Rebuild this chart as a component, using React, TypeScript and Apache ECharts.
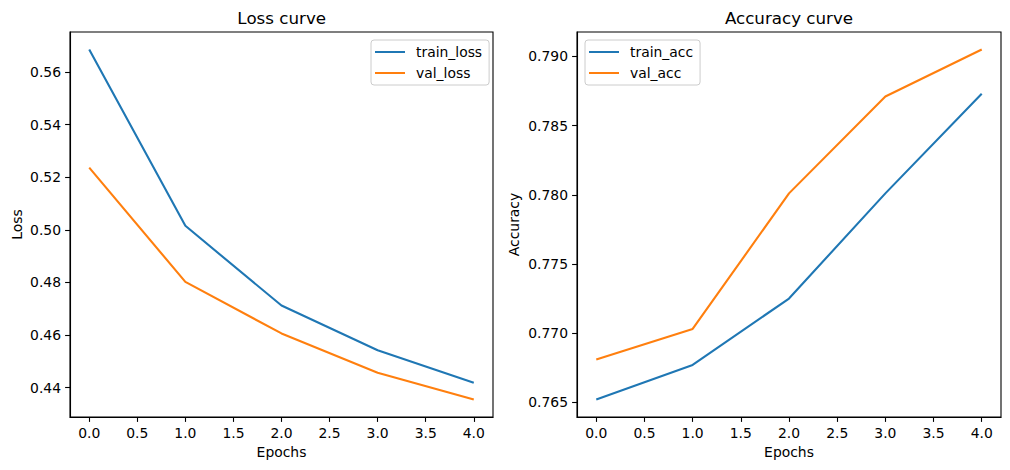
import React, { useEffect, useRef } from "react";
import * as echarts from "echarts";

const epochs = [0, 1, 2, 3, 4];
const trainLoss = [0.5685, 0.5015, 0.4712, 0.4542, 0.4419];
const valLoss = [0.5236, 0.4802, 0.4606, 0.4457, 0.4355];
const trainAcc = [0.7652, 0.7677, 0.7725, 0.7801, 0.7873];
const valAcc = [0.7681, 0.7703, 0.7801, 0.7871, 0.7905];
const xTicks = [0, 0.5, 1, 1.5, 2, 2.5, 3, 3.5, 4];
const lossTicks = [0.44, 0.46, 0.48, 0.5, 0.52, 0.54, 0.56];
const accTicks = [0.765, 0.77, 0.775, 0.78, 0.785, 0.79];

const FONT = "DejaVu Sans";
const FS = 13.9;

function pad(lo: number[], hi: number[]) {
  const all = [...lo, ...hi];
  const mn = Math.min(...all);
  const mx = Math.max(...all);
  const d = (mx - mn) * 0.05;
  return [mn - d, mx + d];
}

export default function App() {
  const ref = useRef<HTMLDivElement>(null);
  useEffect(() => {
    if (!ref.current) return;
    const chart = echarts.init(ref.current, null, { renderer: "svg" });
    const [lMin, lMax] = pad(trainLoss, valLoss);
    const [aMin, aMax] = pad(trainAcc, valAcc);
    const xSpan = (epochs[epochs.length - 1] - epochs[0]) * 0.05;
    const xAxisBase = (gridIndex: number) => ({
      type: "value",
      gridIndex,
      min: epochs[0] - xSpan,
      max: epochs[epochs.length - 1] + xSpan,
      name: "Epochs",
      nameLocation: "middle",
      nameGap: 27,
      nameTextStyle: { fontFamily: FONT, fontSize: FS, color: "#000" },
      axisLine: { show: true, onZero: false, lineStyle: { color: "#000", width: 1.1 } },
      axisTick: { show: true, length: 4.9, lineStyle: { color: "#000", width: 1.1 }, customValues: xTicks },
      axisLabel: {
        show: true,
        margin: 9,
        fontFamily: FONT,
        fontSize: FS,
        color: "#000",
        customValues: xTicks,
        formatter: (v: number) => v.toFixed(1),
      },
      splitLine: { show: false },
    });
    const yAxisBase = (gridIndex: number, mn: number, mx: number, ticks: number[], dec: number, name: string, gap: number) => ({
      type: "value",
      gridIndex,
      min: mn,
      max: mx,
      name,
      nameLocation: "middle",
      nameGap: gap,
      nameRotate: 90,
      nameTextStyle: { fontFamily: FONT, fontSize: FS, color: "#000" },
      axisLine: { show: true, onZero: false, lineStyle: { color: "#000", width: 1.1 } },
      axisTick: { show: true, length: 4.9, lineStyle: { color: "#000", width: 1.1 }, customValues: ticks },
      axisLabel: {
        show: true,
        margin: 9,
        fontFamily: FONT,
        fontSize: FS,
        color: "#000",
        customValues: ticks,
        formatter: (v: number) => v.toFixed(dec),
      },
      splitLine: { show: false },
    });
    const legendBase = (left: number, data: string[]) => ({
      orient: "vertical",
      left,
      top: 40,
      data,
      icon: "rect",
      itemWidth: 30,
      itemHeight: 2,
      itemGap: 5,
      padding: [4, 7, 4, 4],
      backgroundColor: "rgba(255,255,255,0.8)",
      borderColor: "#cccccc",
      borderWidth: 1,
      borderRadius: 3,
      textStyle: { fontFamily: FONT, fontSize: FS, color: "#000", lineHeight: 16, padding: [0, 0, 0, 6] },
      selectedMode: false,
    });
    const line = (name: string, data: number[], color: string, idx: number) => ({
      type: "line",
      name,
      xAxisIndex: idx,
      yAxisIndex: idx,
      data: epochs.map((e, i) => [e, data[i]]),
      showSymbol: false,
      symbol: "none",
      lineStyle: { color, width: 2.1 },
      itemStyle: { color },
      z: 3,
    });
    chart.setOption({
      animation: false,
      backgroundColor: "#fff",
      grid: [
        { left: 70, top: 32, right: 517, bottom: 53, show: true, borderColor: "#000", borderWidth: 1.1, backgroundColor: "transparent" },
        { left: 577, top: 32, right: 9, bottom: 53, show: true, borderColor: "#000", borderWidth: 1.1, backgroundColor: "transparent" },
      ],
      xAxis: [xAxisBase(0), xAxisBase(1)],
      yAxis: [
        yAxisBase(0, lMin, lMax, lossTicks, 2, "Loss", 46),
        yAxisBase(1, aMin, aMax, accTicks, 3, "Accuracy", 56),
      ],
      legend: [legendBase(371, ["train_loss", "val_loss"]), legendBase(585, ["train_acc", "val_acc"])],
      graphic: [
        { type: "text", x: 281.7, y: 18, style: { text: "Loss curve", fontFamily: FONT, fontSize: 16.7, fill: "#000", textAlign: "center", textVerticalAlign: "middle" } },
        { type: "text", x: 789, y: 18, style: { text: "Accuracy curve", fontFamily: FONT, fontSize: 16.7, fill: "#000", textAlign: "center", textVerticalAlign: "middle" } },
      ],
      series: [
        line("train_loss", trainLoss, "#1f77b4", 0),
        line("val_loss", valLoss, "#ff7f0e", 0),
        line("train_acc", trainAcc, "#1f77b4", 1),
        line("val_acc", valAcc, "#ff7f0e", 1),
      ],
    });
    return () => chart.dispose();
  }, []);
  return <div ref={ref} style={{ position: "fixed", left: 0, top: 0, width: 1010, height: 470 }} />;
}
